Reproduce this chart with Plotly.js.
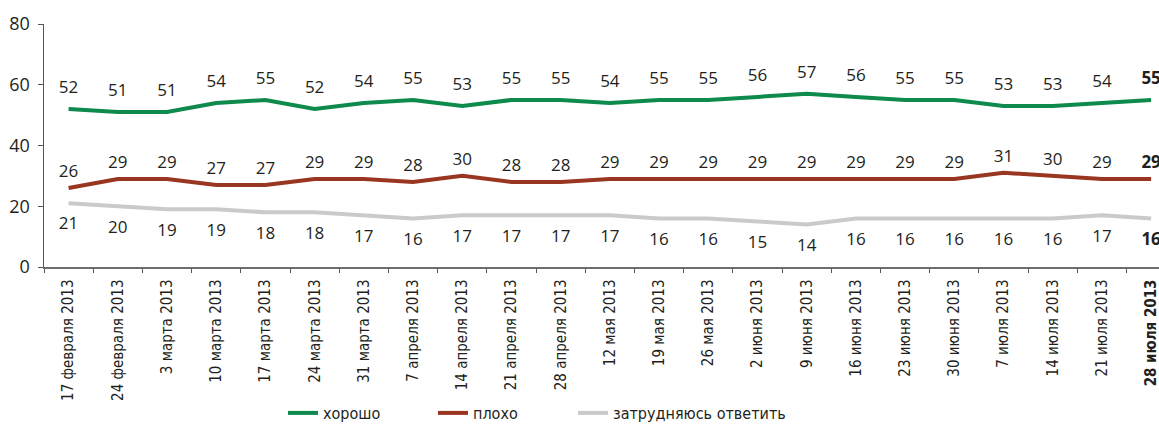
<!DOCTYPE html>
<html>
<head>
<meta charset="utf-8">
<script src="https://cdn.plot.ly/plotly-3.0.1.min.js"></script>
<style>
  html, body { margin: 0; padding: 0; background: #ffffff; }
  #chart { width: 1159px; height: 426px; }
</style>
</head>
<body>
<div id="chart"></div>
<script>
const categories = [
  "17 февраля 2013", "24 февраля 2013", "3 марта 2013", "10 марта 2013",
  "17 марта 2013", "24 марта 2013", "31 марта 2013", "7 апреля 2013",
  "14 апреля 2013", "21 апреля 2013", "28 апреля 2013", "12 мая 2013",
  "19 мая 2013", "26 мая 2013", "2 июня 2013", "9 июня 2013",
  "16 июня 2013", "23 июня 2013", "30 июня 2013", "7 июля 2013",
  "14 июля 2013", "21 июля 2013", "28 июля 2013"
];
const good = [52, 51, 51, 54, 55, 52, 54, 55, 53, 55, 55, 54, 55, 55, 56, 57, 56, 55, 55, 53, 53, 54, 55];
const bad = [26, 29, 29, 27, 27, 29, 29, 28, 30, 28, 28, 29, 29, 29, 29, 29, 29, 29, 29, 31, 30, 29, 29];
const hard = [21, 20, 19, 19, 18, 18, 17, 16, 17, 17, 17, 17, 16, 16, 15, 14, 16, 16, 16, 16, 16, 17, 16];
const seriesNames = ["хорошо", "плохо", "затрудняюсь ответить"];
const yTicks = [0, 20, 40, 60, 80];

const lastIdx = categories.length - 1;
const boldLast = (arr) => arr.map((v, i) => i === lastIdx ? "<b>" + v + "</b>" : String(v));
const tickText = categories.map((c, i) => i === lastIdx ? "<b>" + c + "</b>" : c);

const labelFont = { family: "Open Sans, DejaVu Sans, sans-serif", size: 17, color: "#231f20" };
const narrowFamily = "Liberation Sans Narrow, DejaVu Sans Condensed, Arial Narrow, sans-serif";

function makeTrace(vals, name, color, pos, msize, legendId) {
  return {
    type: "scatter",
    mode: "lines+markers+text",
    x: categories,
    y: vals,
    name: name,
    legend: legendId,
    text: boldLast(vals),
    textposition: pos,
    textfont: labelFont,
    cliponaxis: false,
    line: { color: color, width: 4 },
    marker: { size: msize, color: "rgba(0,0,0,0)" },
    hoverinfo: "x+y+name"
  };
}

const traces = [
  makeTrace(good, seriesNames[0], "#0d8a4c", "top center", 17, "legend"),
  makeTrace(bad, seriesNames[1], "#993621", "top center", 9, "legend2"),
  makeTrace(hard, seriesNames[2], "#cacaca", "bottom center", 20, "legend3")
];

const legendFont = { family: narrowFamily, size: 16, color: "#231f20" };
function legendCfg(xpx) {
  return {
    orientation: "h",
    xref: "container", yref: "container",
    x: xpx / 1159, y: 1 - 413 / 426,
    xanchor: "left", yanchor: "middle",
    font: legendFont,
    bgcolor: "rgba(0,0,0,0)",
    borderwidth: 0
  };
}

const layout = {
  width: 1159,
  height: 426,
  margin: { l: 44, r: 0, t: 24, b: 159 },
  paper_bgcolor: "#ffffff",
  plot_bgcolor: "#ffffff",
  showlegend: true,
  legend: legendCfg(283),
  legend2: legendCfg(433),
  legend3: legendCfg(573),
  xaxis: {
    type: "category",
    range: [-0.5, 22.16],
    tickmode: "array",
    tickvals: categories,
    ticktext: tickText,
    tickangle: -90,
    tickson: "boundaries",
    ticks: "outside",
    ticklen: 4,
    tickwidth: 1,
    tickcolor: "#555555",
    ticklabelstandoff: 5,
    showline: true,
    linecolor: "#6d6d6d",
    linewidth: 1.5,
    showgrid: false,
    zeroline: false,
    tickfont: { family: narrowFamily, size: 15, color: "#231f20" },
    fixedrange: true
  },
  yaxis: {
    range: [0, 80],
    tickmode: "array",
    tickvals: yTicks,
    ticktext: yTicks.map(String),
    ticks: "outside",
    ticklen: 5,
    tickwidth: 1,
    tickcolor: "#555555",
    ticklabelstandoff: 4,
    showline: true,
    linecolor: "#555555",
    linewidth: 1.5,
    showgrid: false,
    zeroline: false,
    tickfont: { family: "Open Sans, DejaVu Sans, sans-serif", size: 18, color: "#231f20" },
    fixedrange: true
  }
};

Plotly.newPlot("chart", traces, layout, { displayModeBar: false, staticPlot: true });
</script>
</body>
</html>
